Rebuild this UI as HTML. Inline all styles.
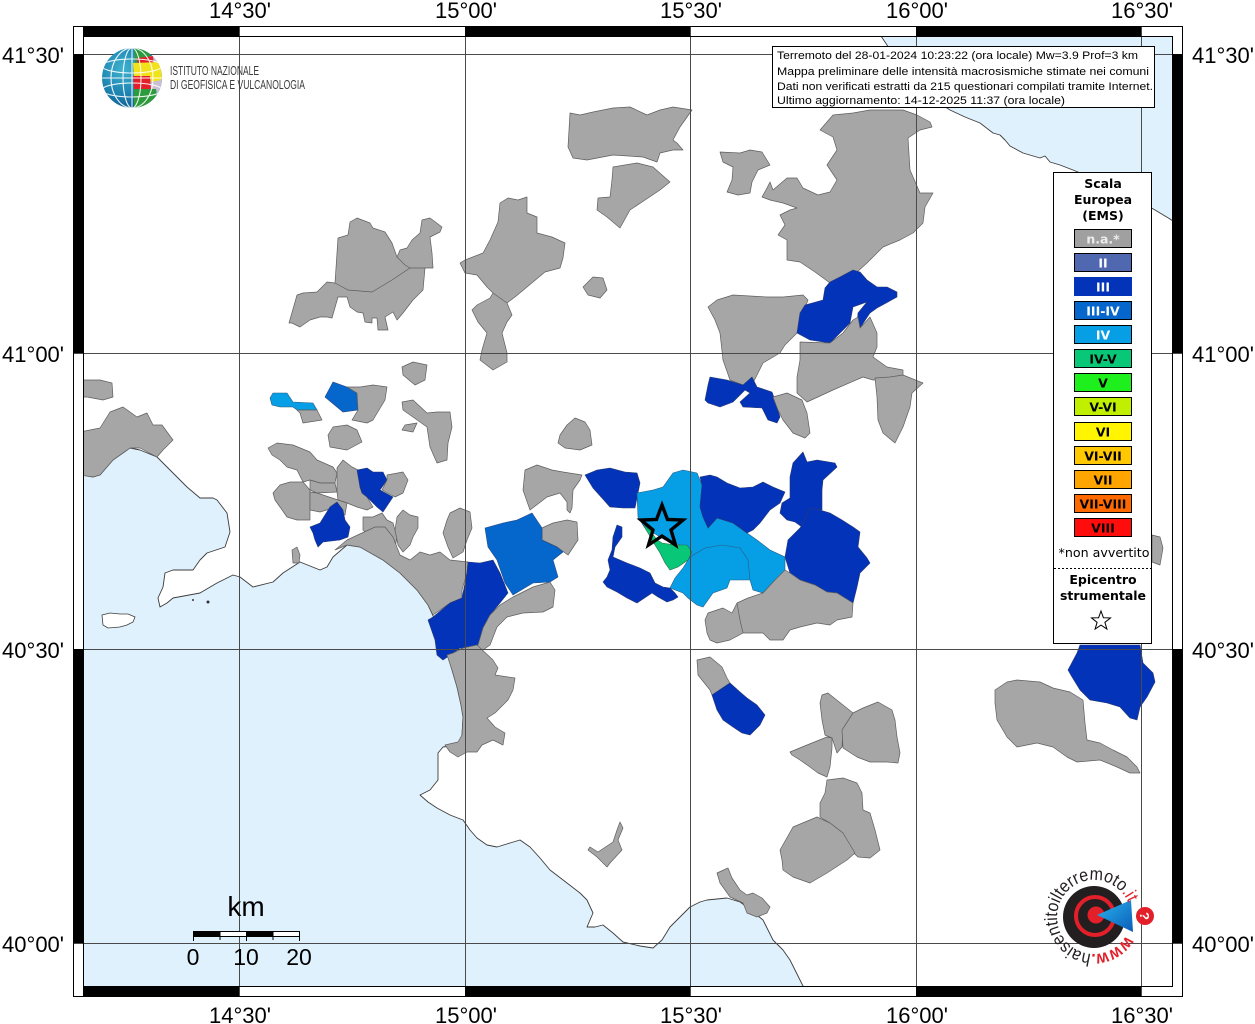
<!DOCTYPE html>
<html><head><meta charset="utf-8"><style>
html,body{margin:0;padding:0;background:#fff;}
svg{display:block;}
.g{fill:#a6a6a6;stroke:#5e5e5e;stroke-width:.7;stroke-linejoin:round}
.b3{fill:#0333b8;stroke:#2a3a70;stroke-width:.6;stroke-linejoin:round}
.b34{fill:#0566cc;stroke:#2a4a80;stroke-width:.6}
.b4{fill:#069fe6;stroke:#2a5a80;stroke-width:.6}
.b45{fill:#08c878;stroke:#2a6a50;stroke-width:.6}
.sea{fill:#dff1fd;stroke:#3c3c3c;stroke-width:.9;stroke-linejoin:round}
.grid{stroke:#4a4a4a;stroke-width:1;fill:none}
.ax{font-family:"Liberation Sans",sans-serif;font-size:22px;fill:#000}
.lg{font-family:"DejaVu Sans","Liberation Sans",sans-serif;font-weight:bold;font-size:12.5px;text-anchor:middle}
.sw{font-family:"DejaVu Sans","Liberation Sans",sans-serif;font-weight:bold;font-size:12.5px;text-anchor:middle}
.info{font-family:"Liberation Sans",sans-serif;font-size:11px;fill:#000}
</style></head><body>
<svg width="1255" height="1024" viewBox="0 0 1255 1024" xmlns="http://www.w3.org/2000/svg">
<defs>
<radialGradient id="tg" cx="0.35" cy="0.35" r="0.75"><stop offset="0" stop-color="#3fb3cf"/><stop offset="0.6" stop-color="#1a7fae"/><stop offset="1" stop-color="#0c4f84"/></radialGradient>
<linearGradient id="bw" x1="0" y1="0" x2="1" y2="1"><stop offset="0" stop-color="#29b6ee"/><stop offset="1" stop-color="#0b5cb8"/></linearGradient>
<clipPath id="gc"><circle cx="132" cy="78" r="30"/></clipPath>
<clipPath id="mc"><rect x="83" y="36" width="1090" height="951"/></clipPath>
<path id="arc" d="M1126.0,935.5 A37,37 0 1,1 1128.8,904.3" fill="none"/>
</defs>
<rect width="1255" height="1024" fill="#fff"/>

<g clip-path="url(#mc)">
<!-- seas -->
<polygon class="sea" points="83,475 93,477 100,475 113,460 130,448 140,450 157,457 173,473 187,487 200,498 213,498 217,500 227,513 230,532 225,547 207,553 200,560 193,570 173,570 165,573 163,587 158,598 160,607 167,603 173,598 200,593 217,583 233,575 240,577 253,587 273,582 283,573 300,562 320,570 327,567 333,557 347,545 360,547 383,560 400,573 417,590 428,605 435,620 441,637 447,653 452,670 457,687 461,705 463,717 462,735 458,745 443,747 438,753 438,780 430,790 420,795 428,802 437,808 450,815 463,820 470,830 477,838 487,845 497,847 510,843 520,840 530,847 540,858 550,870 567,883 580,893 587,900 593,913 587,927 595,927 603,925 613,933 623,942 640,946 653,948 662,940 670,927 680,917 690,907 700,902 707,900 727,898 740,902 747,907 763,920 773,940 783,950 790,960 800,980 805,990 70,990 70,475"/>
<polygon class="sea" points="877,30 1180,30 1180,226 1170,219 1155,210 1120,190 1090,177 1073,170 1060,165 1050,162 1045,156 1040,158 1023,153 1010,146 1005,140 1000,135 993,133 980,123 965,117 950,110 935,100 915,80 897,60 887,45"/>
<polygon points="102,615 110,613 120,614 128,614 135,617 133,622 127,625 120,627 108,628 103,625" fill="#fff" stroke="#3c3c3c" stroke-width=".8"/>
<circle cx="193" cy="600" r="1" fill="#333"/><circle cx="208" cy="602" r="1.5" fill="#333"/>

<!-- Naples -->
<polygon class="g" points="83,380 100,380 112,383 113,397 103,400 87,397 83,397"/>
<polygon class="g" points="80,432 100,428 110,412 123,407 137,417 147,413 153,425 162,425 173,440 163,450 157,457 140,448 130,448 113,460 100,475 93,477 80,475"/>

<!-- NW of Salerno -->
<polygon class="g" points="402,367 413,362 427,365 425,380 415,385 403,375"/>
<polygon class="b4" points="270,398 273,393 287,393 293,402 313,403 317,410 297,410 293,407 280,407 272,405"/>
<polygon class="g" points="297,410 317,410 322,420 303,423 300,413"/>
<polygon class="b34" points="325,397 333,382 347,387 357,393 358,410 343,412"/>
<polygon class="g" points="347,387 360,387 373,385 387,387 385,400 373,420 367,423 352,420 358,410 357,393"/>
<polygon class="g" points="333,427 347,425 357,430 362,442 347,450 330,447 328,435"/>
<polygon class="g" points="402,402 413,400 427,413 437,412 450,412 452,427 448,443 447,460 437,463 430,447 427,427 413,417 403,410"/>
<polygon class="g" points="405,425 417,423 413,432 402,430"/>
<polygon class="g" points="268,448 277,443 293,445 310,452 317,460 333,467 337,473 335,483 320,483 310,480 303,482 297,470 287,467 280,460 272,455"/>
<polygon class="g" points="310,480 320,483 335,483 337,492 317,493 310,490"/>
<polygon class="g" points="337,468 343,460 352,467 358,470 360,487 362,493 367,497 373,507 367,510 357,507 347,503 338,500 337,492"/>
<polygon class="g" points="273,493 280,485 290,482 303,482 310,490 310,503 310,520 297,520 287,517 280,507 275,500"/>
<polygon class="g" points="310,492 317,493 338,500 347,503 345,515 333,508 320,512 310,510"/>
<polygon class="b3" points="357,470 367,468 373,472 383,472 387,480 380,490 393,497 383,512 377,507 367,497 362,493 360,487"/>
<polygon class="g" points="387,475 403,472 408,480 403,493 395,497 382,490 387,480"/>
<polygon class="b3" points="310,527 320,523 330,507 337,502 343,510 345,520 350,527 348,537 340,540 323,542 318,547 315,540 313,533"/>
<polygon class="g" points="363,517 373,517 382,513 387,520 393,523 397,537 395,548 383,545 372,538 363,530"/>
<polygon class="g" points="397,517 403,510 410,515 418,517 418,528 413,537 410,545 403,552 398,545 395,530"/>
<polygon class="g" points="450,513 460,508 470,512 472,528 467,540 463,552 453,558 448,547 443,533 447,520"/>
<polygon class="g" points="292,550 297,547 300,555 299,563 293,563"/>
<polygon class="g" points="335,550 347,540 362,533 375,527 385,527 393,537 400,555 410,560 420,552 430,555 440,552 450,560 468,562 467,573 462,590 462,598 450,603 433,615 428,605 417,590 400,573 383,560 360,547 347,545"/>
<polygon class="b3" points="468,562 480,563 493,560 500,573 508,593 500,603 490,615 483,628 478,645 470,650 460,648 453,653 443,660 437,655 435,640 428,620 433,617 450,603 462,598 467,573"/>
<polygon class="g" points="500,605 513,597 533,587 550,582 555,590 553,607 543,612 523,613 507,617 497,627 490,645 483,650 475,647 478,645 483,628 490,615"/>
<polygon class="g" points="463,648 477,645 493,660 498,668 495,675 515,678 513,690 508,700 495,713 487,718 495,727 505,733 503,745 493,740 482,745 477,752 467,752 458,757 450,752 445,745 458,742 462,735 463,717 461,705 457,687 452,670 447,655 453,653"/>

<!-- upper middle -->
<polygon class="g" points="289,323 297,295 303,293 317,292 327,282 335,283 338,238 348,235 350,222 357,218 370,223 373,228 385,232 392,243 397,257 400,250 407,248 412,240 420,233 422,220 430,218 442,227 440,232 430,237 432,253 433,268 425,268 423,290 413,300 403,313 397,320 393,312 385,317 388,330 378,330 377,318 372,318 372,323 365,322 363,313 357,312 350,307 347,297 338,297 332,318 327,317 320,317 310,320 300,327 292,323"/>
<polyline points="335,283 348,290 372,292 392,280 410,268 425,268" fill="none" stroke="#5e5e5e" stroke-width=".7"/>
<polyline points="397,257 405,265 410,268" fill="none" stroke="#5e5e5e" stroke-width=".7"/>
<polygon class="g" points="465,260 483,253 490,240 498,222 500,203 508,198 518,200 527,197 527,213 537,217 537,233 552,237 565,243 563,258 560,268 545,272 527,287 515,297 507,303 512,315 507,322 502,333 507,353 507,362 493,370 480,360 482,350 487,333 478,322 472,310 477,305 490,298 493,293 487,287 477,275 465,273 460,263"/>
<polyline points="493,293 507,303 M487,333 502,333" fill="none" stroke="#5e5e5e" stroke-width=".7"/>
<polygon class="g" points="570,113 568,147 573,158 587,160 613,155 643,157 657,162 660,153 673,150 683,150 677,143 673,140 680,127 692,110 673,107 660,110 647,115 630,107 613,108 593,112 580,115"/>
<polygon class="g" points="613,167 637,163 653,167 670,182 660,190 630,210 620,228 607,217 597,210 598,198 610,197 612,180"/>
<polygon class="g" points="583,287 593,277 603,278 607,290 600,298 588,295"/>

<!-- right cluster -->
<polygon class="g" points="820,130 833,115 853,113 870,110 903,110 917,115 930,122 932,127 920,130 908,138 910,170 920,193 933,193 925,207 923,223 913,233 900,240 883,247 867,263 857,272 840,277 830,283 815,272 800,262 787,260 787,240 778,235 785,225 780,215 790,210 797,208 783,203 770,200 762,197 767,188 770,182 773,190 787,178 797,178 803,188 818,195 830,192 837,180 827,165 837,150 833,137"/>
<polygon class="g" points="720,152 740,153 750,150 762,152 770,165 758,170 752,182 750,193 738,195 727,192 732,180 733,167 723,162"/>
<polygon class="g" points="708,307 717,300 733,295 767,297 783,297 803,295 808,300 803,313 797,333 785,345 780,353 763,363 758,373 753,383 743,385 730,380 723,360 720,333 715,320"/>
<polygon class="b3" points="797,333 800,313 805,305 823,300 825,288 830,282 840,277 853,270 860,272 867,280 877,287 887,287 897,292 897,297 877,308 870,313 860,328 857,323 858,313 867,302 853,307 850,323 840,333 830,343 810,340"/>
<polygon class="g" points="800,342 830,343 843,333 853,320 858,317 860,328 870,317 877,333 877,347 873,357 887,367 903,370 903,377 888,380 873,380 863,377 833,390 807,402 797,393 797,377 800,360"/>
<polygon class="g" points="875,378 890,377 903,375 923,383 912,393 910,407 903,427 895,443 883,433 878,420 877,397"/>
<polygon class="b3" points="705,400 708,385 710,377 727,380 743,385 752,377 757,387 772,392 775,400 780,417 777,423 768,420 762,408 743,407 740,402 750,393 745,390 733,402 720,407 708,403"/>
<polygon class="g" points="773,397 787,393 802,400 807,413 810,433 805,438 793,433 783,420 778,410"/>

<!-- center -->
<polygon class="g" points="558,443 560,435 567,425 575,418 585,422 590,430 592,445 580,450 565,448"/>
<polygon class="g" points="523,490 525,470 537,465 552,470 563,472 582,475 580,480 573,490 572,508 570,513 567,510 567,502 560,493 547,497 530,510"/>
<polygon class="g" points="542,528 553,523 567,520 577,522 578,540 568,555 557,547 542,540"/>
<polygon class="b34" points="485,528 503,523 517,520 532,513 542,528 542,540 557,547 563,552 553,560 558,577 550,582 533,583 513,595 505,583 497,560 488,547"/>
<polygon class="b3" points="585,475 597,470 610,468 625,472 637,473 640,483 637,498 635,508 623,508 610,507 602,498 593,488"/>
<polygon class="b4" points="637,493 653,490 663,487 673,473 683,470 697,473 702,485 700,507 703,517 708,528 717,518 733,523 747,533 757,540 770,550 785,557 785,572 775,580 763,593 753,590 750,580 730,580 727,588 713,593 703,607 697,605 688,598 683,593 670,588 675,578 683,568 690,557 680,545 665,540 652,532 643,525 638,517"/>
<polyline points="690,557 705,548 722,545 740,548 748,560 750,580 M705,548 700,530 692,518 M708,528 712,540 M748,560 770,550 M690,557 692,575 705,578 725,576 730,580" fill="none" stroke="#2a5a80" stroke-width=".6"/>
<polygon class="b45" points="643,525 650,530 657,540 662,543 675,545 687,545 692,552 688,560 678,567 670,570 665,563 660,553 655,545 648,533"/>
<polygon class="b3" points="617,525 622,527 622,537 615,547 613,557 627,563 640,568 650,573 655,583 663,587 670,588 675,593 678,597 673,600 667,602 658,597 652,593 637,603 627,598 617,592 607,587 603,582 607,577 610,570 608,560 612,550 613,537"/>
<polygon class="b3" points="700,477 710,475 717,477 727,483 740,488 753,487 763,482 773,487 785,492 780,503 770,510 760,523 753,530 747,533 733,523 717,518 708,528 703,517 700,507 702,485"/>
<polygon class="b3" points="793,463 803,452 807,462 817,460 835,463 837,467 823,480 822,490 822,510 810,510 802,527 795,522 787,520 780,513 782,503 790,498 790,477"/>
<polygon class="b3" points="810,508 820,510 830,513 842,520 853,527 860,532 858,547 867,558 870,563 860,573 857,587 853,603 847,600 837,593 827,592 815,585 807,583 800,580 790,573 785,557 788,540 800,528 802,525"/>
<polygon class="g" points="708,613 723,608 732,613 737,603 748,598 763,593 775,580 785,570 790,573 800,580 815,585 827,592 837,593 853,603 852,617 837,620 830,625 817,623 800,627 790,630 783,640 770,640 763,633 743,633 730,640 717,643 710,640 707,633 705,620"/>
<polyline points="737,603 740,620 743,633 M763,593 768,612 770,640 M790,573 795,600 800,627" fill="none" stroke="#5e5e5e" stroke-width=".7"/>

<!-- lower -->
<polygon class="g" points="697,660 710,657 722,667 727,678 730,683 712,695 710,690 698,675"/>
<polygon class="b3" points="712,695 730,683 740,692 747,698 757,705 765,715 760,725 750,735 742,733 733,727 723,720 717,710"/>
<polygon class="g" points="620,822 623,828 618,840 622,850 610,863 607,867 597,857 588,850 590,847 598,852 613,842 617,830"/>
<polygon class="g" points="717,873 728,868 732,878 740,890 747,895 753,893 762,898 770,907 767,913 757,917 747,913 743,903 730,897 720,883"/>

<!-- east -->
<polygon class="b3" points="1068,670 1077,653 1080,645 1140,645 1143,663 1153,673 1155,682 1147,697 1140,707 1137,720 1130,718 1120,707 1107,703 1090,700 1080,690 1072,677"/>
<polygon class="g" points="995,690 1007,682 1017,680 1040,682 1053,688 1070,692 1083,700 1085,723 1087,740 1100,743 1113,750 1127,757 1137,767 1140,773 1130,773 1117,767 1100,760 1077,762 1067,757 1053,747 1037,743 1017,747 1007,737 997,720 995,703"/>
<polygon class="g" points="822,695 828,693 843,705 853,713 843,730 842,747 837,753 832,738 825,735 822,720 820,703"/>
<polygon class="g" points="853,713 863,708 878,702 892,710 895,720 897,737 900,753 898,763 887,762 870,762 857,757 843,748 842,730"/>
<polygon class="g" points="790,752 807,745 827,737 832,738 832,748 830,767 827,777 818,773 810,767 800,760 792,755"/>
<polygon class="g" points="827,780 843,778 857,783 862,793 863,810 870,813 875,830 880,850 870,858 858,857 847,847 843,833 830,823 820,817 820,803 825,793"/>
<polygon class="g" points="780,850 793,827 817,817 830,823 843,833 855,853 847,860 827,873 810,883 793,877 783,870 782,860"/>
<polygon class="g" points="1152,535 1160,537 1163,548 1160,565 1152,562"/>

<!-- star -->
<polygon points="662,505 667.5,519.5 683,520 671,530 675.5,545 662,536 648.5,545 653,530 641,520 656.5,519.5" fill="none" stroke="#000" stroke-width="3.4" stroke-linejoin="miter"/>
</g>

<!-- grid -->
<g class="grid">
<line x1="239.5" y1="26" x2="239.5" y2="997"/><line x1="465.5" y1="26" x2="465.5" y2="997"/><line x1="690.5" y1="26" x2="690.5" y2="997"/><line x1="916.5" y1="26" x2="916.5" y2="997"/><line x1="1141.5" y1="26" x2="1141.5" y2="997"/>
<line x1="73" y1="54.5" x2="1183" y2="54.5"/><line x1="73" y1="353.5" x2="1183" y2="353.5"/><line x1="73" y1="649.5" x2="1183" y2="649.5"/><line x1="73" y1="943.5" x2="1183" y2="943.5"/>
</g>

<!-- frame -->
<g fill="#000">
<rect x="83" y="26" width="156" height="10"/><rect x="465" y="26" width="225" height="10"/><rect x="916" y="26" width="225" height="10"/>
<rect x="83" y="987" width="156" height="10"/><rect x="465" y="987" width="225" height="10"/><rect x="916" y="987" width="225" height="10"/>
<rect x="73" y="54" width="10" height="299"/><rect x="73" y="649" width="10" height="294"/>
<rect x="1173" y="54" width="10" height="299"/><rect x="1173" y="649" width="10" height="294"/>
</g>
<rect x="73.5" y="26.5" width="1109" height="970" fill="none" stroke="#000" stroke-width="1"/>
<rect x="83.5" y="36.5" width="1089" height="950" fill="none" stroke="#000" stroke-width="1"/>

<!-- axis labels -->
<g class="ax" text-anchor="middle">
<text x="240" y="18">14°30'</text><text x="466" y="18">15°00'</text><text x="691" y="18">15°30'</text><text x="917" y="18">16°00'</text><text x="1142" y="18">16°30'</text>
<text x="240" y="1023">14°30'</text><text x="466" y="1023">15°00'</text><text x="691" y="1023">15°30'</text><text x="917" y="1023">16°00'</text><text x="1142" y="1023">16°30'</text>
</g>
<g class="ax" text-anchor="end">
<text x="64" y="63">41°30'</text><text x="64" y="362">41°00'</text><text x="64" y="658">40°30'</text><text x="64" y="952">40°00'</text>
</g>
<g class="ax" text-anchor="start">
<text x="1192" y="63">41°30'</text><text x="1192" y="362">41°00'</text><text x="1192" y="658">40°30'</text><text x="1192" y="952">40°00'</text>
</g>

<!-- INGV logo -->
<circle cx="132" cy="78" r="30" fill="url(#tg)"/>
<g clip-path="url(#gc)">
<polygon points="148,56 166,56 166,104 150,98" fill="#c9c0d6"/>
<polygon points="134,48 150,48 150,60 135,63" fill="#2e9a3e"/>
<polygon points="137,58 153,56 154,67 138,69" fill="#e3202a"/>
<polygon points="133,63 160,62 162,78 134,78" fill="#f2e21a"/>
<polygon points="133,76 150,76 151,90 134,90" fill="#e3202a"/>
<polygon points="134,89 156,89 160,112 134,112" fill="#2e9a3e"/>
<polygon points="150,66 160,64 161,80 151,82" fill="#f2e21a"/>
<g fill="none" stroke="#fff" stroke-width="1.1" opacity=".9">
<ellipse cx="132" cy="78" rx="9" ry="30"/><ellipse cx="132" cy="78" rx="21" ry="30"/>
<line x1="132" y1="48" x2="132" y2="108"/>
<ellipse cx="132" cy="66" rx="30" ry="7"/><ellipse cx="132" cy="90" rx="30" ry="7"/>
<line x1="102" y1="78" x2="162" y2="78"/>
</g>
</g>
<text x="170" y="75" font-family="Liberation Sans,sans-serif" font-size="12.5" fill="#3a3a3a" textLength="89" lengthAdjust="spacingAndGlyphs">ISTITUTO NAZIONALE</text>
<text x="170" y="89" font-family="Liberation Sans,sans-serif" font-size="12.5" fill="#3a3a3a" textLength="135" lengthAdjust="spacingAndGlyphs">DI GEOFISICA E VULCANOLOGIA</text>

<!-- info box -->
<rect x="772.5" y="46.5" width="382" height="61" fill="#fff" stroke="#000" stroke-width="1"/>
<text class="info" x="777" y="59" textLength="361" lengthAdjust="spacingAndGlyphs">Terremoto del 28-01-2024 10:23:22 (ora locale) Mw=3.9 Prof=3 km</text>
<text class="info" x="777" y="75" textLength="372" lengthAdjust="spacingAndGlyphs">Mappa preliminare delle intensità macrosismiche stimate nei comuni</text>
<text class="info" x="777" y="90" textLength="376" lengthAdjust="spacingAndGlyphs">Dati non verificati estratti da 215 questionari compilati tramite Internet.</text>
<text class="info" x="777" y="104" textLength="288" lengthAdjust="spacingAndGlyphs">Ultimo aggiornamento: 14-12-2025 11:37 (ora locale)</text>

<!-- legend -->
<rect x="1053.5" y="172.5" width="98" height="471" fill="#fff" stroke="#000" stroke-width="1"/>
<text class="lg" x="1103" y="188">Scala</text>
<text class="lg" x="1103" y="204">Europea</text>
<text class="lg" x="1103" y="220">(EMS)</text>
<g stroke="#000" stroke-width="1">
<rect x="1074.5" y="229.5" width="57" height="18" fill="#a0a0a0"/>
<rect x="1074.5" y="253.5" width="57" height="18" fill="#5068b0"/>
<rect x="1074.5" y="277.5" width="57" height="18" fill="#0333b8" stroke="#0333b8"/>
<rect x="1074.5" y="301.5" width="57" height="18" fill="#0566cc"/>
<rect x="1074.5" y="325.5" width="57" height="18" fill="#069fe6"/>
<rect x="1074.5" y="349.5" width="57" height="18" fill="#08c878"/>
<rect x="1074.5" y="373.5" width="57" height="18" fill="#1ef01e"/>
<rect x="1074.5" y="397.5" width="57" height="18" fill="#c0f000"/>
<rect x="1074.5" y="422.5" width="57" height="18" fill="#fff500"/>
<rect x="1074.5" y="446.5" width="57" height="18" fill="#ffc800"/>
<rect x="1074.5" y="470.5" width="57" height="18" fill="#ffa500"/>
<rect x="1074.5" y="494.5" width="57" height="18" fill="#ff6a00"/>
<rect x="1074.5" y="518.5" width="57" height="18" fill="#ff0d0d"/>
</g>
<text class="sw" x="1103" y="243.5" fill="#ececec">n.a.*</text>
<text class="sw" x="1103" y="267.5" fill="#fff">II</text>
<text class="sw" x="1103" y="291.5" fill="#fff">III</text>
<text class="sw" x="1103" y="315.5" fill="#fff">III-IV</text>
<text class="sw" x="1103" y="339.5" fill="#fff">IV</text>
<text class="sw" x="1103" y="363.5" fill="#000">IV-V</text>
<text class="sw" x="1103" y="387.5" fill="#000">V</text>
<text class="sw" x="1103" y="411.5" fill="#000">V-VI</text>
<text class="sw" x="1103" y="436.5" fill="#000">VI</text>
<text class="sw" x="1103" y="460.5" fill="#000">VI-VII</text>
<text class="sw" x="1103" y="484.5" fill="#000">VII</text>
<text class="sw" x="1103" y="508.5" fill="#000">VII-VIII</text>
<text class="sw" x="1103" y="532.5" fill="#000">VIII</text>
<text x="1104" y="557" font-family="DejaVu Sans,Liberation Sans,sans-serif" font-size="12" text-anchor="middle" textLength="91" lengthAdjust="spacingAndGlyphs">*non avvertito</text>
<line x1="1054" y1="568.5" x2="1151" y2="568.5" stroke="#000" stroke-width="1" stroke-dasharray="2,2"/>
<text class="lg" x="1103" y="584">Epicentro</text>
<text class="lg" x="1103" y="600">strumentale</text>
<polygon points="1101,611 1103.4,617.7 1110.5,617.9 1104.9,622.3 1106.9,629.1 1101,625.1 1095.1,629.1 1097.1,622.3 1091.5,617.9 1098.6,617.7" fill="#fff" stroke="#000" stroke-width="1"/>

<!-- scale bar -->
<text x="246" y="916" font-family="Liberation Sans,sans-serif" font-size="28" text-anchor="middle">km</text>
<g stroke="#000" stroke-width="1">
<rect x="193.5" y="931.5" width="26.5" height="5" fill="#000"/>
<rect x="220" y="931.5" width="26.5" height="5" fill="#fff"/>
<rect x="246.5" y="931.5" width="26.5" height="5" fill="#000"/>
<rect x="273" y="931.5" width="26.5" height="5" fill="#fff"/>
<line x1="193.5" y1="931" x2="193.5" y2="941"/><line x1="220" y1="936" x2="220" y2="940"/><line x1="246.5" y1="931" x2="246.5" y2="941"/><line x1="273" y1="936" x2="273" y2="940"/><line x1="299.5" y1="931" x2="299.5" y2="941"/>
</g>
<g font-family="Liberation Sans,sans-serif" font-size="23" text-anchor="middle">
<text x="193" y="965">0</text><text x="246" y="965">10</text><text x="299" y="965">20</text>
</g>

<!-- haisentito logo -->
<circle cx="1094" cy="917" r="31" fill="#231f20"/>
<circle cx="1095" cy="916" r="19" fill="none" stroke="#e3202a" stroke-width="4"/>
<circle cx="1096" cy="915" r="8.5" fill="#e3202a"/>
<polygon points="1097,915 1131,900 1133,932" fill="url(#bw)"/>
<circle cx="1145" cy="916" r="9" fill="#e3202a"/>
<text x="1145" y="921" font-family="Liberation Sans,sans-serif" font-weight="bold" font-size="13" fill="#fff" text-anchor="middle" transform="rotate(90 1145 916)">?</text>
<text font-family="Liberation Sans,sans-serif" font-size="18" fill="#231f20"><textPath href="#arc" textLength="198" lengthAdjust="spacingAndGlyphs"><tspan fill="#e3202a" font-weight="bold">www.</tspan>haisentitoilterremoto<tspan fill="#e3202a">.it</tspan></textPath></text>
</svg>
</body></html>
